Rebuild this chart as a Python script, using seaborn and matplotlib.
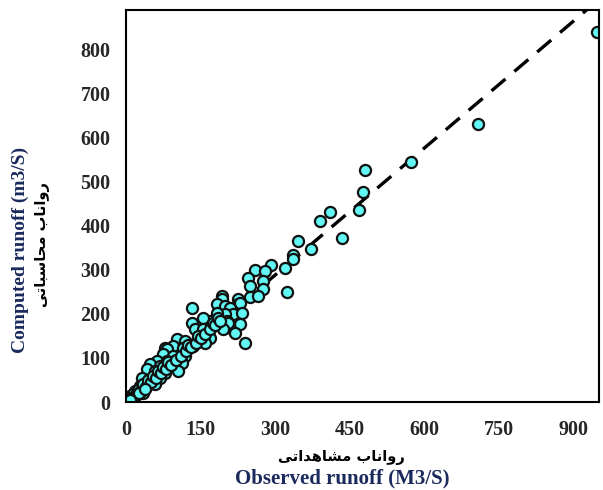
import matplotlib
matplotlib.use("Agg")
import matplotlib.pyplot as plt
import pandas as pd
import seaborn as sns

# ---- data ----
observed = [948, 708, 574, 481, 477, 469, 411, 390, 435, 346, 372, 336, 336, 320, 324,
            292, 260, 280, 246, 276, 250, 276, 250, 266, 225, 225, 193, 193, 183, 199,
            229, 209, 215, 234, 199, 183, 203, 229, 199, 219, 240, 169, 205, 155, 133,
            139, 155, 195, 153, 169, 103, 119, 143, 159, 133, 95, 115, 135, 79, 83,
            123, 74, 95, 119, 62, 83, 95, 113, 48, 68, 42, 58, 79, 105, 32,
            52, 68, 42, 58, 28, 18, 34, 8, 2, 14,
            10, 15, 20, 25, 30, 35, 40, 45, 50, 55, 60, 65, 70, 75, 80, 85, 90,
            100, 110, 120, 125, 130, 140, 145, 150, 160, 170, 175, 180, 185, 190,
            3, 5, 6, 12, 16, 22, 4, 9, 26, 38]
computed = [839, 632, 545, 527, 477, 436, 432, 411, 373, 366, 348, 334, 325, 305, 250,
            311, 300, 298, 282, 275, 264, 257, 239, 241, 234, 223, 241, 234, 223, 218,
            225, 214, 200, 202, 200, 202, 184, 177, 168, 157, 134, 184, 180, 191, 180,
            166, 166, 166, 150, 145, 143, 139, 139, 134, 214, 127, 123, 127, 123, 120,
            120, 109, 105, 105, 93, 93, 86, 89, 86, 82, 75, 70, 66, 70, 55,
            55, 55, 41, 41, 36, 25, 20, 14, 2, 7,
            12, 18, 15, 28, 25, 40, 35, 50, 45, 60, 55, 70, 65, 80, 75, 90, 85,
            95, 105, 115, 130, 125, 135, 150, 145, 155, 165, 180, 175, 190, 185,
            5, 3, 8, 8, 12, 18, 2, 4, 20, 30]
trend_x = [0, 930]
trend_y = [0, 893]
x_ticks = [0, 150, 300, 450, 600, 750, 900]
y_ticks = [0, 100, 200, 300, 400, 500, 600, 700, 800]

# Persian labels, shaped with Arabic presentation forms (logical order), reversed for display
def visual(codes):
    return "".join(chr(c) for c in reversed(codes))

fa_computed = visual([0xFEAD, 0xFEED, 0xFE8D, 0xFEE7, 0xFE8E, 0xFE8F, 0x20,
                      0xFEE3, 0xFEA4, 0xFE8E, 0xFEB3, 0xFE92, 0xFE8E, 0xFE97, 0xFEF0])
fa_observed = visual([0xFEAD, 0xFEED, 0xFE8D, 0xFEE7, 0xFE8E, 0xFE8F, 0x20,
                      0xFEE3, 0xFEB8, 0xFE8E, 0xFEEB, 0xFEAA, 0xFE8D, 0xFE97, 0xFEF0])

df = pd.DataFrame({"observed": observed, "computed": computed})

sns.set_theme(style="white")
plt.rcParams["font.family"] = ["Liberation Serif", "DejaVu Serif"]

fig = plt.figure(figsize=(6.03, 4.90), dpi=100)
ax = fig.add_axes([126 / 603, 88 / 490, 473 / 603, 392 / 490])

ax.plot(trend_x, trend_y, color="black", lw=2.4, dashes=(5.5, 3.5), zorder=1)
sns.scatterplot(data=df, x="observed", y="computed", ax=ax, s=64,
                color="#62f7f4", edgecolor="#111111", linewidth=1.6, zorder=2)

ax.set_xlim(0, 952)
ax.set_ylim(0, 890)
ax.set_xticks(x_ticks)
ax.set_yticks(y_ticks)
ax.tick_params(axis="both", length=0, labelsize=14.5)
ax.tick_params(axis="x", pad=13)
ax.tick_params(axis="y", pad=11)
for lab in ax.get_xticklabels() + ax.get_yticklabels():
    lab.set_fontweight("bold")
ax.set_xlabel("")
ax.set_ylabel("")
for sp in ax.spines.values():
    sp.set_color("black")
    sp.set_linewidth(1.5)

navy = "#1b2a5c"
fig.text(20 / 603, 1 - 250 / 490, "Computed runoff (m3/S)", rotation=90,
         ha="center", va="center", fontsize=14, fontweight="bold", color=navy)
fig.text(42 / 603, 1 - 245 / 490, fa_computed, rotation=90, ha="center", va="center",
         fontsize=10.5, fontweight="bold", family=["DejaVu Sans"], color="black")
fig.text(341 / 603, 1 - 457 / 490, fa_observed, ha="center", va="center",
         fontsize=10.5, fontweight="bold", family=["DejaVu Sans"], color="black")
fig.text(342 / 603, 1 - 478 / 490, "Observed runoff (M3/S)", ha="center", va="center",
         fontsize=15, fontweight="bold", color=navy)

fig.savefig("out.png", dpi=100)
